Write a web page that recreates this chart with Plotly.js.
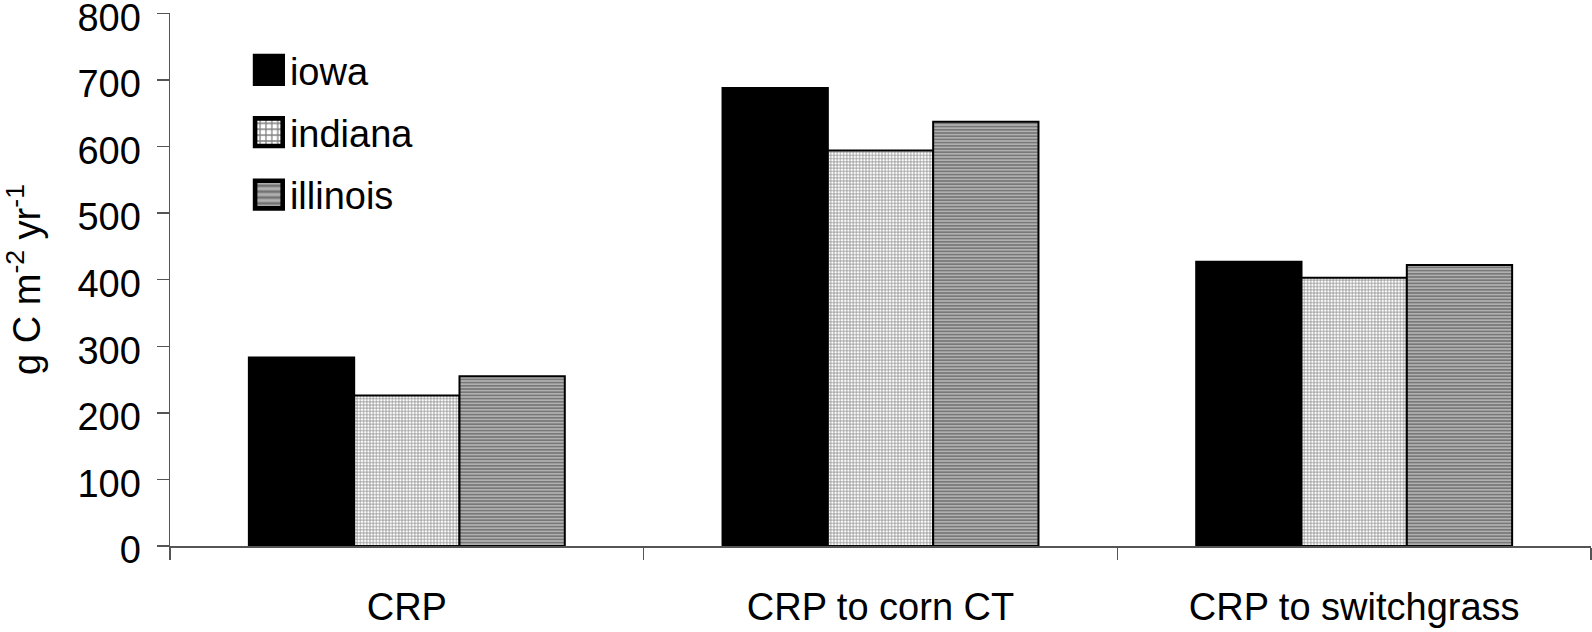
<!DOCTYPE html>
<html>
<head>
<meta charset="utf-8">
<script src="https://cdn.plot.ly/plotly-3.0.1.min.js"></script>
<style>html,body{margin:0;padding:0;background:#fff;}#chart{width:1592px;height:632px;}</style>
</head>
<body>
<div id="chart"></div>
<script>
const categories = ["CRP", "CRP to corn CT", "CRP to switchgrass"];
const seriesNames = ["iowa", "indiana", "illinois"];
const iowa = [283, 688, 427];
const indiana = [226, 594, 403];
const illinois = [255, 637, 422];
const yTicks = [0, 100, 200, 300, 400, 500, 600, 700, 800];

const FONT = "Liberation Sans, Arial, sans-serif";
const FS = 38;

const traces = [
  {
    type: "bar", name: seriesNames[0], x: categories, y: iowa, legendgroup: "a",
    marker: {color: "#000000", line: {color: "#000000", width: 2}}
  },
  {
    type: "bar", name: seriesNames[1], x: categories, y: indiana, legendgroup: "b",
    marker: {color: "#ffffff", line: {color: "#000000", width: 2},
      pattern: {shape: "+", size: 3.2, solidity: 0.38, fgcolor: "#000000", bgcolor: "#ffffff", fillmode: "overlay"}}
  },
  {
    type: "bar", name: seriesNames[2], x: categories, y: illinois, legendgroup: "c",
    marker: {color: "#9a9a9a", line: {color: "#000000", width: 2},
      pattern: {shape: "-", size: 3.2, solidity: 0.45, fgcolor: "#333333", bgcolor: "#b0b0b0", fillmode: "overlay"}}
  }
];

const layout = {
  width: 1592, height: 632,
  margin: {l: 170, r: 1, t: 13, b: 86, pad: 0},
  paper_bgcolor: "#ffffff", plot_bgcolor: "#ffffff",
  font: {family: FONT, size: FS, color: "#000000"},
  barmode: "group", bargap: 0.333, bargroupgap: 0,
  showlegend: true,
  legend: {
    x: 0.052, y: 0.952, xanchor: "left", yanchor: "top",
    font: {family: FONT, size: FS, color: "#000"},
    bgcolor: "rgba(0,0,0,0)", borderwidth: 0,
    tracegroupgap: 10, traceorder: "grouped", itemwidth: 36
  },
  xaxis: {
    type: "category", tickson: "boundaries",
    showline: true, linecolor: "#555555", linewidth: 1.5,
    ticks: "outside", ticklen: 12, tickwidth: 1.5, tickcolor: "#555555",
    showgrid: false, zeroline: false,
    tickfont: {family: FONT, size: FS, color: "#000"},
    ticklabelstandoff: 27
  },
  yaxis: {
    range: [0, 800.5], tickvals: yTicks, ticktext: yTicks.map(String),
    showline: true, linecolor: "#555555", linewidth: 1.5,
    ticks: "outside", ticklen: 12, tickwidth: 1.5, tickcolor: "#555555",
    showgrid: false, zeroline: false, ticklabeloverflow: "allow",
    tickfont: {family: FONT, size: FS, color: "#000"},
    ticklabelstandoff: 8, ticklabelshift: 4,
    title: {text: "g C m<sup>-2</sup> yr<sup>-1</sup>", font: {family: FONT, size: FS, color: "#000"}, standoff: 35}
  }
};

Plotly.newPlot("chart", traces, layout, {displayModeBar: false, staticPlot: true}).then(function (gd) {
  function scaleLegend() {
    document.querySelectorAll("#chart .legend .legendpoints path").forEach(function (p) {
      p.setAttribute("transform", "translate(25,0) scale(2.3)");
    });
  }
  scaleLegend();
  gd.on("plotly_afterplot", scaleLegend);
});
</script>
</body>
</html>
